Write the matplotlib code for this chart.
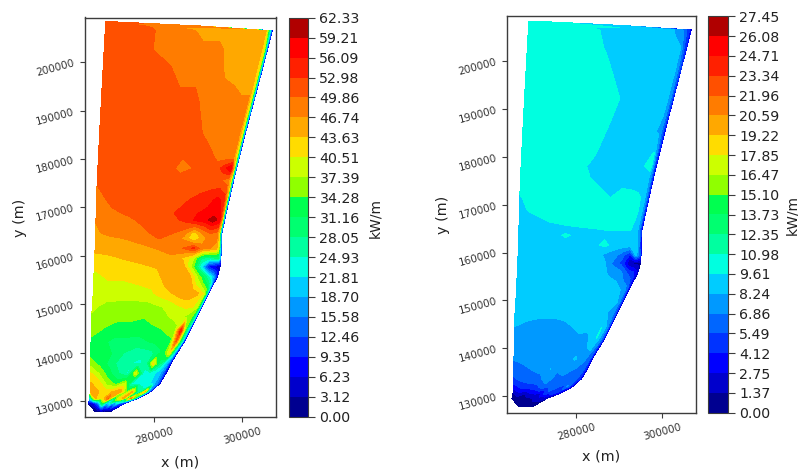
import numpy as np
import matplotlib
matplotlib.use("Agg")
import matplotlib.pyplot as plt
from matplotlib.colors import ListedColormap

W, H = 798, 470

# Domain outline (m)
edge_y = [127800, 129170, 130200, 131240, 133990, 138820, 141230, 147430, 152250, 156040, 158450,
          164650, 174300, 185320, 198070, 206550, 207510, 208400]
edge_west = [266600, 265000, 265300, 265500, 265500, 265580, 265650, 265810, 266180, 266330, 266480,
             266710, 267010, 267620, 268370, 268900, 268980, 268980]
edge_east = [270000, 272300, 275320, 278340, 281740, 284380, 286270, 289660, 292300, 294570, 295100,
             295330, 297670, 300690, 304390, 306800, 290420, 270030]

# Sampling rows (m) and fractions of the way from west edge to shoreline
row_y = [127800, 129500, 130550, 131930, 133650, 135720, 137780, 139850, 142260, 144670, 147430,
         149500, 152250, 155700, 157760, 159490, 161550, 163620, 164650, 167410, 168800, 171540, 175680,
         178090, 180500, 185320, 192210, 199100, 202550, 206550, 207510, 208410]
across = [0, .12, .25, .38, .5, .6, .7, .78, .85, .91, .96, .98, .99, 1]

power_left = [
 [1.5, 1.5, 1.5, 1.5, 1.5, 1.5, 1.5, 1.5, 1.5, 1.5, 1.5, 1.5, 1.5, 1.5],
 [3, 5, 14, 32, 18, 24, 14, 22, 14, 12, 10, 8, 6, 4],
 [22, 44, 40, 50, 26, 40, 45, 28, 48, 30, 24, 14, 8, 4],
 [45, 44, 42, 44, 46, 34, 44, 28, 26, 44, 18, 12, 8, 4],
 [44, 42, 36, 33, 38, 24, 23, 23, 22, 20, 16, 12, 8, 3],
 [41, 37, 32, 28, 24, 40, 24, 23, 22, 20, 14, 10, 6, 3],
 [36, 33, 30, 26, 25, 24, 26, 42, 30, 24, 18, 12, 8, 4],
 [33, 33, 31, 28, 26, 26, 27, 30, 33, 40, 24, 16, 10, 5],
 [33, 32, 30, 30, 30, 31, 32, 33, 33, 50, 30, 22, 14, 6],
 [36, 34, 33, 33, 32.5, 33, 34, 35, 37, 55, 30, 24, 16, 6],
 [37, 36, 35, 35, 34.5, 36, 37, 38, 38, 36, 34, 28, 20, 6],
 [38, 36.5, 36, 36, 36, 37, 38, 40, 41, 41, 38, 30, 20, 6],
 [38, 39, 39, 39, 40, 42, 44, 46, 46, 44, 40, 32, 22, 6],
 [39.5, 41, 41, 42, 42, 46, 46, 44, 36, 28, 20, 14, 10, 5],
 [41, 42, 42, 43, 44, 46, 46, 36, 22, 8, 5, 4, 4, 3],
 [42, 43, 44, 45, 45, 46, 43, 38, 28, 26, 28, 28, 22, 12],
 [45, 45, 45, 46, 47, 48, 50, 54, 48, 47, 45, 40, 25, 12],
 [46, 46, 47, 48, 50, 49, 46, 40, 45, 49, 48, 42, 25, 10],
 [46, 48, 48, 49, 51, 50, 48, 42, 47, 50, 49, 42, 25, 10],
 [47, 48, 49, 51, 51, 52, 54, 57, 58, 61, 58, 46, 25, 8],
 [47.5, 49, 50.5, 51, 51, 53, 54, 56, 57, 58, 56, 46, 25, 8],
 [48, 51, 51, 51, 51, 52, 53, 54, 55, 57, 55, 45, 25, 8],
 [50.5, 51, 51, 51, 51, 51, 51, 51, 51, 50, 48, 42, 25, 7],
 [51, 51, 51, 51, 51, 49, 50, 51, 51, 55, 59, 45, 25, 7],
 [51, 51, 51, 51, 51, 50, 50, 51, 49, 48, 47, 40, 25, 7],
 [51, 51, 51, 51, 51, 51, 50, 48, 48, 48, 47, 40, 24, 7],
 [51, 51, 51, 51, 51, 51, 48, 48, 48, 47, 47, 40, 25, 8],
 [51, 51, 51, 51, 48, 48, 48, 46, 45, 45, 45, 40, 25, 8],
 [51, 51, 51, 48, 48, 48, 48, 45, 45, 45, 45, 40, 25, 8],
 [51, 51, 51, 48, 48, 45, 45, 45, 45, 45, 46, 30, 20, 6],
 [51, 51, 51, 51, 48, 48, 48, 48, 48, 48, 48, 48, 48, 48],
 [51, 51, 51, 51, 51, 51, 51, 51, 51, 51, 51, 51, 51, 51],
]

power_right = [
 [.5, .5, .5, .5, .5, .5, .5, .5, .5, .5, .5, .5, .5, .5],
 [.4, .6, .6, .8, 1.2, 1.5, 2, 2, 2, 1.8, 1.6, 1.5, 1.2, 1],
 [1.2, 2.5, 1.5, 3, 3, 2.5, 5, 4, 5, 3.5, 3, 2.5, 2, 1.5],
 [3.5, 4.5, 5, 5, 6.5, 5.5, 6.5, 5.5, 5.2, 7, 4, 3, 2, 1.5],
 [5.3, 6, 6.3, 6.6, 7.6, 6.6, 6.5, 6.5, 6.3, 6, 5, 4, 3, 1.5],
 [6, 6.5, 7, 7.2, 8.3, 7, 7.8, 7, 6.8, 6.5, 5.5, 4, 3, 1.5],
 [7, 7.3, 7.3, 7.3, 7.3, 7.5, 7.6, 8.5, 7.5, 7, 6, 5, 3, 2],
 [7.5, 7.5, 7.5, 7.5, 7.5, 7.5, 7.5, 7.5, 8, 8.5, 6.5, 5, 3.5, 2],
 [7.5, 7.5, 7.5, 7.5, 7.5, 7.6, 8, 7.5, 8.8, 9.7, 7.5, 5.5, 4, 2],
 [8.3, 7.9, 7.6, 7.6, 7.8, 8.3, 8.8, 9, 9, 9.6, 8, 6, 4, 2],
 [9, 8.9, 8.7, 8.7, 8.9, 9, 9, 9, 9, 8, 7, 6, 4, 2],
 [9, 9, 9, 9, 9, 9, 9, 9, 9, 9, 8, 6, 4, 2],
 [9, 9, 9, 9, 9, 9, 9, 9, 9, 8.5, 7.5, 6, 4, 2],
 [9, 9, 9, 9, 9, 8.8, 8.5, 8, 7.5, 5.5, 4.5, 3.5, 2.5, 1.5],
 [9, 9, 9, 9, 9, 9, 8.7, 6.5, 5, 1.5, 1, 1, 1, 1],
 [9, 9, 9, 9, 9, 9, 8, 7.5, 6, 4, 8.8, 7, 6, 4],
 [9, 9, 9, 9, 9, 9, 10, 9, 9, 9, 8.8, 7, 5, 3],
 [9, 9, 9, 9.8, 9.2, 9, 9.3, 9, 9, 9, 8.8, 7, 5, 3],
 [9, 9, 9, 9.2, 9.4, 9.5, 9.6, 9.6, 9.7, 9.6, 8.8, 7, 5, 3],
 [9, 9.4, 10, 10.3, 10.3, 10.3, 10.3, 10.3, 10.3, 10.1, 9, 7, 5, 3],
 [9.2, 10, 10.3, 10.3, 10.3, 10.3, 10.3, 10.3, 10.3, 10.1, 9.2, 7, 5, 3],
 [9.5, 10.3, 10.3, 10.3, 10.3, 10.3, 9.6, 10.1, 10, 9.8, 9.4, 7, 5.5, 3],
 [10.3, 10.3, 10.3, 10.3, 9.8, 9, 9, 9, 9, 9, 8.6, 7, 5, 3],
 [10.3, 10.3, 10.3, 10.3, 9.5, 9, 9.1, 9, 9, 9.6, 10.4, 7, 5, 3],
 [10.3, 10.3, 10.3, 10.3, 10, 9, 9, 9, 9, 9, 9.8, 7, 5, 3],
 [10.3, 10.3, 10.3, 10.3, 10.3, 9.5, 9, 9, 9, 8.6, 8, 6.5, 5, 3],
 [10.3, 10.3, 10.3, 10.3, 10.3, 10, 9, 9, 9, 9, 8.5, 7, 5.5, 3.5],
 [10.3, 10.3, 10.3, 10.3, 10, 9, 9, 9, 9, 9, 8.5, 7, 5.5, 4],
 [10.3, 10.3, 10.3, 10.3, 9.5, 9, 9, 9, 9, 8.8, 8.5, 6, 5, 3.5],
 [10.3, 10.3, 10.3, 10.2, 9, 9, 9, 9, 9, 8, 6.5, 5, 4, 2.5],
 [10.3, 10.3, 10.3, 10.3, 10.3, 10.3, 10.3, 9, 9, 9, 9, 9, 9, 9],
 [10.3, 10.3, 10.3, 10.3, 10.3, 10.3, 10.3, 10.3, 10.3, 10.3, 10.3, 10.3, 10.3, 10.3],
]

levels_left = [0.00, 3.12, 6.23, 9.35, 12.46, 15.58, 18.70, 21.81, 24.93, 28.05, 31.16, 34.28, 37.39,
               40.51, 43.63, 46.74, 49.86, 52.98, 56.09, 59.21, 62.33]
levels_right = [0.00, 1.37, 2.75, 4.12, 5.49, 6.86, 8.24, 9.61, 10.98, 12.35, 13.73, 15.10, 16.47,
                17.85, 19.22, 20.59, 21.96, 23.34, 24.71, 26.08, 27.45]
band_colors = ["#000090", "#0000cc", "#0000ff", "#0033ff", "#0066ff", "#0099ff", "#00ccff", "#00ffe0",
               "#00ffa0", "#00ff70", "#00ff50", "#90ff00", "#ccff00", "#ffdc00", "#ffa800", "#ff7c00",
               "#ff5000", "#ff2000", "#ff0000", "#b00000"]
x_ticks = [280000, 300000]
y_ticks = [130000, 140000, 150000, 160000, 170000, 180000, 190000, 200000]


def rect(x0, y0, x1, y1):
    return [x0 / W, 1 - y1 / H, (x1 - x0) / W, (y1 - y0) / H]


fig = plt.figure(figsize=(W / 100, H / 100), dpi=100)
west = np.interp(row_y, edge_y, edge_west)
east = np.interp(row_y, edge_y, edge_east)
X = np.outer(west, 1 - np.array(across)) + np.outer(east, np.array(across))
Y = np.repeat(np.array(row_y, float)[:, None], len(across), axis=1)
cmap = ListedColormap(band_colors)

panels = [
    dict(z=power_left, lv=levels_left, box=(84.5, 17.5, 276.3, 417), cb=(289.3, 17.7, 308.3, 416.7),
         xlim=(264200, 307700), ylim=(126700, 209260), xl=(180, 462), yl=(20, 218), kl=(375, 218)),
    dict(z=power_right, lv=levels_right, box=(507, 16, 696.3, 412.7), cb=(708.3, 16.3, 728, 412.7),
         xlim=(263950, 307980), ylim=(126500, 209470), xl=(601, 456), yl=(443, 215), kl=(792, 215)),
]
edge = "#3c3c3c"
for p in panels:
    ax = fig.add_axes(rect(*p["box"]))
    cf = ax.contourf(X, Y, np.array(p["z"]), levels=p["lv"], cmap=cmap)
    ax.set_xlim(*p["xlim"])
    ax.set_ylim(*p["ylim"])
    ax.set_xticks(x_ticks)
    ax.set_yticks(y_ticks)
    ax.ticklabel_format(style="plain", useOffset=False)
    ax.tick_params(labelsize=7.5, length=3.5, width=0.8, color=edge, labelcolor="#333333", pad=3)
    plt.setp(ax.get_xticklabels(), rotation=15)
    plt.setp(ax.get_yticklabels(), rotation=15)
    for s in ax.spines.values():
        s.set_color(edge)
        s.set_linewidth(1.0)
    fig.text(p["xl"][0] / W, 1 - p["xl"][1] / H, "x (m)", fontsize=10.4, ha="center", va="center", color="#222222")
    fig.text(p["yl"][0] / W, 1 - p["yl"][1] / H, "y (m)", fontsize=10.4, ha="center", va="center",
             rotation=90, color="#222222")
    cax = fig.add_axes(rect(*p["cb"]))
    cb = fig.colorbar(cf, cax=cax, ticks=p["lv"], spacing="uniform", format="%.2f")
    cb.ax.tick_params(labelsize=10.2, length=5, width=0.8, color=edge, labelcolor="#222222", pad=3)
    cb.outline.set_edgecolor(edge)
    cb.outline.set_linewidth(0.8)
    fig.text(p["kl"][0] / W, 1 - p["kl"][1] / H, "kW/m", fontsize=10, ha="center", va="center",
             rotation=90, color="#222222")

fig.savefig("out.png", dpi=100)
